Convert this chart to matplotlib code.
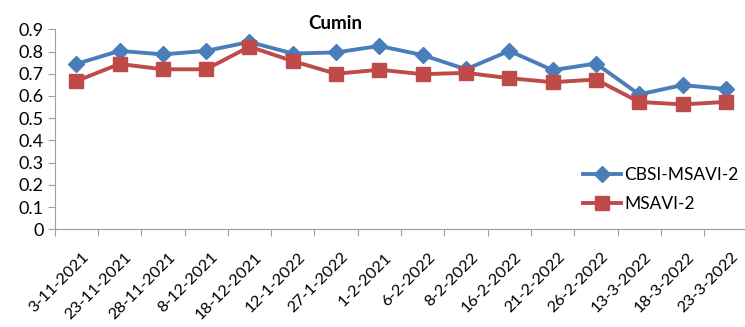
import matplotlib
matplotlib.use("Agg")
import matplotlib.pyplot as plt
import matplotlib.transforms as mtransforms
import numpy as np

dates = ["3-11-2021", "23-11-2021", "28-11-2021", "8-12-2021", "18-12-2021",
         "12-1-2022", "27-1-2022", "1-2-2021", "6-2-2022", "8-2-2022",
         "16-2-2022", "21-2-2022", "26-2-2022", "13-3-2022", "18-3-2022", "23-3-2022"]
cbsi_msavi2 = [0.744, 0.803, 0.787, 0.803, 0.843, 0.791, 0.796, 0.825, 0.784, 0.72,
               0.803, 0.716, 0.746, 0.607, 0.649, 0.631]
msavi2 = [0.667, 0.744, 0.72, 0.72, 0.822, 0.757, 0.70, 0.718, 0.698, 0.704,
          0.68, 0.662, 0.674, 0.573, 0.562, 0.573]
yticks = np.round(np.arange(0, 0.91, 0.1), 1)

plt.rcParams["font.family"] = ["Lato", "DejaVu Sans"]

fig = plt.figure(figsize=(7.45, 3.27), dpi=100)
ax = fig.add_axes([0.0733, 0.2988, 0.93, 0.6116])

x = np.arange(len(dates))
ax.plot(x, cbsi_msavi2, color="#4A7EBB", lw=2.8, marker="D", ms=8.5,
        label="CBSI-MSAVI-2", zorder=3)
ax.plot(x, msavi2, color="#BE4B48", lw=2.8, marker="s", ms=10.5,
        label="MSAVI-2", zorder=3)

ax.set_xlim(-0.5, len(dates) - 0.5)
ax.set_ylim(0, 0.9)
ax.set_yticks(yticks)
ax.set_yticklabels([f"{v:g}" for v in yticks], fontsize=13)

# category boundaries carry the tick marks, labels sit under each point
ax.set_xticks(np.arange(-0.5, len(dates) - 0.5, 1.0))
ax.set_xticklabels([])
ax.set_xticks(x, minor=True)
ax.set_xticklabels(dates, minor=True, rotation=45, ha="right", va="top",
                   rotation_mode="anchor", fontsize=11.8)
ax.tick_params(axis="x", which="minor", length=0, pad=15)
ax.tick_params(axis="x", which="major", length=5, color="#a0a0a0")
ax.tick_params(axis="y", length=5, color="#a0a0a0", pad=3)
shift = mtransforms.ScaledTranslation(5 / 100, 0, fig.dpi_scale_trans)
for lab in ax.get_xticklabels(minor=True):
    lab.set_transform(lab.get_transform() + shift)

for side in ["top", "right"]:
    ax.spines[side].set_visible(False)
for side in ["left", "bottom"]:
    ax.spines[side].set_color("#a0a0a0")

ax.text(0.405, 1.0, "Cumin", transform=ax.transAxes, ha="center", va="baseline",
        fontsize=13.5, fontweight="bold")

ax.legend(loc="lower right", bbox_to_anchor=(1.01, 0.01), frameon=False,
          fontsize=12.5, handlelength=2.2, labelspacing=0.75, handletextpad=0.2)

fig.savefig("out.png", dpi=100)
